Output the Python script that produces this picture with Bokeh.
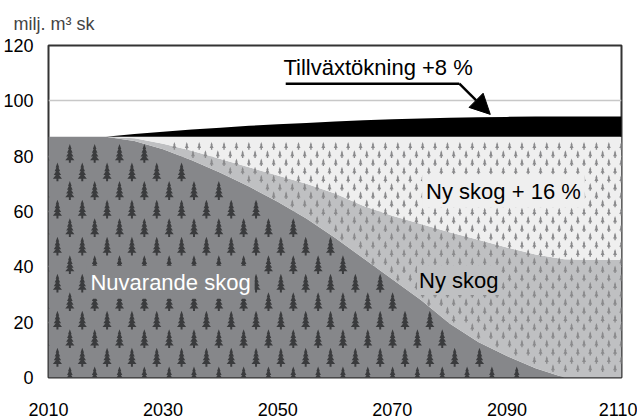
import numpy as np
from bokeh.plotting import figure
from bokeh.models import (Range1d, FixedTicker, Title, Label, Arrow, NormalHead,
                          ColumnDataSource)
from bokeh.embed import file_html
from bokeh.resources import INLINE

# Harvest potential, million m3 sk, stacked by source
years = [2010, 2015, 2020, 2025, 2030, 2035, 2040, 2045, 2050, 2055, 2060,
         2065, 2070, 2075, 2080, 2085, 2090, 2095, 2100, 2105, 2110]
# upper edge of each stacked layer
top_nuvarande = [87, 87, 87, 85.5, 82.5, 78.5, 74, 69, 63.5, 57.5, 50.5,
                 43, 35.5, 28, 19.5, 12.8, 7.8, 3.3, 0, 0, 0]
top_ny_skog = [87, 87, 87, 86.5, 84.5, 82, 79, 76, 73, 70, 66.5,
               62, 58.5, 55.5, 52.5, 49.8, 47, 44.5, 42.7, 42.5, 42.5]
top_ny_skog_16 = [87] * 21
top_tillvaxt = [87, 87, 87, 88, 88.8, 89.6, 90.3, 91, 91.5, 92, 92.5,
                93, 93.3, 93.6, 93.9, 94.1, 94.2, 94.3, 94.3, 94.3, 94.3]

x_ticks = [2010, 2030, 2050, 2070, 2090, 2110]
y_ticks = [0, 20, 40, 60, 80, 100, 120]

FONT = "Liberation Sans"
W, H = 637, 418
B_LEFT, B_RIGHT, B_TOP, B_BOTTOM = 44, 16, 45, 37
X0, X1, Y0, Y1 = 2010, 2110, 0, 120

C_NUV, C_NY, C_NY16 = "#86878a", "#bfc0c2", "#efefef"

src = ColumnDataSource(dict(
    x=years,
    zero=[0] * len(years),
    nuv=top_nuvarande,
    ny=top_ny_skog,
    ny16=top_ny_skog_16,
    tv=top_tillvaxt,
))

# ---- tree texture: small pine polygons laid out on a staggered grid ----
fw, fh = W - B_LEFT - B_RIGHT, H - B_TOP - B_BOTTOM
px_per_x = fw / (X1 - X0)
px_per_y = fh / (Y1 - Y0)


def half_to_full(right):
    """Mirror a right-hand outline (dx, dy in px) into a closed tree outline."""
    left = [(-dx, dy) for dx, dy in reversed(right) if dx != 0]
    return right + left


big_tree = half_to_full([(0, 0), (1.8, 5.0), (1.0, 5.0), (2.8, 8.8), (1.3, 8.8),
                         (3.7, 12.6), (1.6, 12.6), (4.6, 16.3), (1.0, 16.3),
                         (1.0, 19)])
small_tree = half_to_full([(0, 0), (1.2, 3.3), (0.7, 3.3), (2.0, 6.2),
                           (0.7, 6.2), (0.7, 7.8)])


def tree_field(shape, pitch_x, pitch_y, phase_x, phase_y, lower, upper):
    shp = np.array(shape, dtype=float)
    xs, ys = [], []
    row = 0
    top = phase_y - pitch_y * np.ceil((phase_y - B_TOP + 25) / pitch_y)
    while top < H - B_BOTTOM:
        shift = pitch_x / 2 if row % 2 else 0.0
        cx = phase_x + shift - pitch_x * np.ceil((phase_x + shift - B_LEFT + 10) / pitch_x)
        while cx < W - B_RIGHT + 10:
            vx = X0 + (cx + shp[:, 0] - B_LEFT) / px_per_x
            vy = Y0 + (H - B_BOTTOM - (top + shp[:, 1])) / px_per_y
            ok = np.all(vy <= np.interp(vx, years, upper) + 0.05)
            if lower is not None:
                ok = ok and np.all(vy >= np.interp(vx, years, lower) - 0.05)
            if ok:
                xs.append(vx.tolist())
                ys.append(vy.tolist())
            cx += pitch_x
        top += pitch_y
        row += 1
    return xs, ys


dark_xs, dark_ys = tree_field(big_tree, 25, 18.75, 3, 13.5, None, top_nuvarande)
light_xs, light_ys = tree_field(small_tree, 12.5, 8.33, 2, 1, top_nuvarande,
                                top_ny_skog_16)

p = figure(width=W, height=H, output_backend="svg", toolbar_location=None,
           x_range=Range1d(X0, X1), y_range=Range1d(Y0, Y1),
           min_border_left=B_LEFT, min_border_right=B_RIGHT,
           min_border_top=B_TOP, min_border_bottom=B_BOTTOM)
p.background_fill_color = "white"
p.border_fill_color = "white"
p.outline_line_color = "#333333"
p.outline_line_width = 2

# stacked layers, bottom to top
p.varea(x="x", y1="zero", y2="nuv", source=src, fill_color=C_NUV)
p.varea(x="x", y1="nuv", y2="ny", source=src, fill_color=C_NY)
p.varea(x="x", y1="ny", y2="ny16", source=src, fill_color=C_NY16)
p.varea(x="x", y1="ny16", y2="tv", source=src, fill_color="black")

p.patches(dark_xs, dark_ys, fill_color="#3a3b3d", line_color=None)
p.patches(light_xs, light_ys, fill_color="#8a8a8c", line_color=None)

# axes
p.xaxis.ticker = FixedTicker(ticks=x_ticks)
p.yaxis.ticker = FixedTicker(ticks=y_ticks)
for ax in (p.xaxis[0], p.yaxis[0]):
    ax.axis_line_color = None
    ax.major_tick_line_color = None
    ax.minor_tick_line_color = None
    ax.major_label_text_font = FONT
    ax.major_label_text_font_size = "18px"
    ax.major_label_text_color = "black"
p.xaxis.major_label_standoff = 19
p.yaxis.major_label_standoff = 9

p.xgrid.grid_line_color = None
p.ygrid.grid_line_color = "#c8c8c8"
p.ygrid.grid_line_width = 1.5

p.add_layout(Title(text="milj. m³ sk", align="left", offset=-35,
                   text_font=FONT, text_font_size="18px",
                   text_font_style="normal", standoff=23), "above")

# annotations, each on a patch of its own layer colour
label_style = dict(text_font=FONT, text_font_size="22px",
                   text_baseline="middle", text_align="center")
p.add_layout(Label(x=2031.3, y=34.4, text="Nuvarande skog", text_color="white",
                   background_fill_color=C_NUV, padding=4, **label_style))
p.add_layout(Label(x=2081.6, y=35.1, text="Ny skog", text_color="black",
                   background_fill_color=C_NY, padding=2, **label_style))
p.add_layout(Label(x=2089.4, y=67.4, text="Ny skog + 16 %", text_color="black",
                   background_fill_color=C_NY16, padding=4, **label_style))
p.add_layout(Label(x=2051.0, y=112.1, text="Tillväxtökning +8 %",
                   text_color="black", text_font=FONT, text_font_size="22px",
                   text_baseline="middle", text_align="left"))

leader_x = [2051.4, 2081.7]
leader_y = [106.2, 106.2]
p.line(leader_x, leader_y, line_color="black", line_width=2.5)
p.add_layout(Arrow(x_start=2081.7, y_start=106.2, x_end=2087.1, y_end=95.1,
                   line_width=2.5, line_color="black",
                   end=NormalHead(size=20, fill_color="black",
                                  line_color="black")))

open("out.html", "w").write(file_html(p, INLINE))
